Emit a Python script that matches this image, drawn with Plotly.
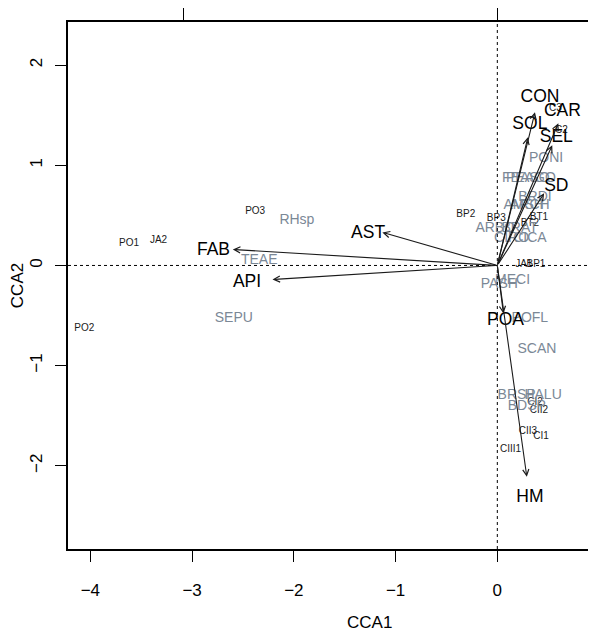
import plotly.graph_objects as go

# ---- data ----
site_names = ["PO1", "PO2", "PO3", "JA2", "BP2", "BP3", "BP1", "JA1", "BT1", "BT2",
              "C3", "C2", "CI2", "CII2", "CII3", "CI1", "CIII1"]
site_x = [-3.62, -4.06, -2.38, -3.33, -0.31, -0.01, 0.38, 0.26, 0.41, 0.32,
          0.57, 0.63, 0.37, 0.41, 0.30, 0.43, 0.13]
site_y = [0.22, -0.63, 0.54, 0.25, 0.51, 0.47, 0.01, 0.01, 0.48, 0.42,
          1.57, 1.35, -1.37, -1.45, -1.66, -1.71, -1.84]

species_names = ["RHsp", "TEAE", "SEPU", "PONI", "PEAGO", "FEASO", "BRDI", "ARCH", "AMSH",
                 "ARBO", "BRAT", "CIRO", "CICA", "MECI", "PASH", "POFL", "SCAN",
                 "BRSP", "HALU", "BDSP"]
species_x = [-1.97, -2.34, -2.59, 0.48, 0.33, 0.28, 0.37, 0.32, 0.26,
             -0.02, 0.22, 0.14, 0.32, 0.15, 0.02, 0.32, 0.39,
             0.19, 0.45, 0.29]
species_y = [0.45, 0.05, -0.53, 1.07, 0.87, 0.87, 0.68, 0.60, 0.60,
             0.37, 0.37, 0.27, 0.27, -0.15, -0.19, -0.53, -0.84,
             -1.30, -1.30, -1.41]

env_names = ["CON", "CAR", "SOL", "SEL", "SD", "AST", "FAB", "API", "POA", "HM"]
env_x = [0.37, 0.60, 0.30, 0.54, 0.46, -1.13, -2.60, -2.21, 0.06, 0.29]
env_y = [1.53, 1.42, 1.28, 1.20, 0.72, 0.33, 0.16, -0.14, -0.48, -2.11]
env_label_x = [0.42, 0.64, 0.32, 0.58, 0.58, -1.27, -2.79, -2.46, 0.08, 0.32]
env_label_y = [1.68, 1.54, 1.41, 1.28, 0.79, 0.32, 0.15, -0.17, -0.55, -2.32]

x_ticks = [-4, -3, -2, -1, 0, 1]
y_ticks = [-2, -1, 0, 1, 2]
arrow_ticks = [-1, 0, 1]
arrow_mul = 3.08
x_range = [-4.22, 0.97]
y_range = [-2.83, 2.43]
x_title = "CCA1"
x_title_pos = -1.26   # centre of the full (uncropped) plotting region
y_title = "CCA2"

FONT = "Liberation Sans, Arial, sans-serif"

fig = go.Figure()

fig.add_trace(go.Scatter(
    x=site_x, y=site_y, mode="text", text=site_names,
    textfont=dict(family=FONT, size=10, color="#1a1a1a"),
    hoverinfo="skip", showlegend=False))

fig.add_trace(go.Scatter(
    x=species_x, y=species_y, mode="text", text=species_names,
    textfont=dict(family=FONT, size=14, color="#7b8896"),
    hoverinfo="skip", showlegend=False))

fig.add_trace(go.Scatter(
    x=env_label_x, y=env_label_y, mode="text", text=env_names,
    textfont=dict(family=FONT, size=17.5, color="#000000"),
    hoverinfo="skip", showlegend=False))

# invisible trace to activate the top axis
fig.add_trace(go.Scatter(x=[0], y=[0], xaxis="x2", mode="markers",
                         marker=dict(opacity=0), hoverinfo="skip", showlegend=False))

annotations = []
for ex, ey in zip(env_x, env_y):
    annotations.append(dict(
        x=ex, y=ey, ax=0, ay=0, xref="x", yref="y", axref="x", ayref="y",
        text="", showarrow=True, arrowhead=5, arrowsize=1.1, arrowwidth=1.1,
        arrowcolor="#1a1a1a"))

annotations.append(dict(
    x=x_title_pos, y=0, xref="x", yref="paper", yshift=-73,
    text=x_title, showarrow=False, xanchor="center", yanchor="middle",
    font=dict(family=FONT, size=17, color="black")))

shapes = [
    dict(type="line", xref="x", yref="paper", x0=0, x1=0, y0=0, y1=1,
         line=dict(color="black", width=1, dash="dot")),
    dict(type="line", xref="paper", yref="y", x0=0, x1=1, y0=0, y1=0,
         line=dict(color="black", width=1, dash="dot")),
]

# the page body has an 8px default margin, so the figure is offset accordingly
fig.update_layout(
    width=588, height=625,
    margin=dict(l=60, r=0, t=14, b=84),
    paper_bgcolor="white", plot_bgcolor="white",
    font=dict(family=FONT, size=17, color="black"),
    annotations=annotations, shapes=shapes,
    xaxis=dict(range=x_range, tickvals=x_ticks, showgrid=False, zeroline=False,
               showline=True, linecolor="black", linewidth=1.6, automargin=False,
               ticks="outside", ticklen=11, tickwidth=1, tickcolor="black",
               tickfont=dict(size=17), ticklabelstandoff=14),
    xaxis2=dict(range=[x_range[0] / arrow_mul, x_range[1] / arrow_mul],
                overlaying="x", side="top", tickvals=arrow_ticks, automargin=False,
                showticklabels=False, showgrid=False, zeroline=False,
                showline=True, linecolor="black", linewidth=1.6,
                ticks="outside", ticklen=12, tickwidth=1, tickcolor="black"),
    yaxis=dict(range=y_range, tickvals=y_ticks, showgrid=False, zeroline=False,
               showline=True, linecolor="black", linewidth=1.6, automargin=False,
               ticks="outside", ticklen=11, tickwidth=1, tickcolor="black",
               tickangle=-90, tickfont=dict(size=17), ticklabelstandoff=6,
               title=dict(text=y_title, font=dict(size=17), standoff=0)),
)

fig.write_html("out.html")
